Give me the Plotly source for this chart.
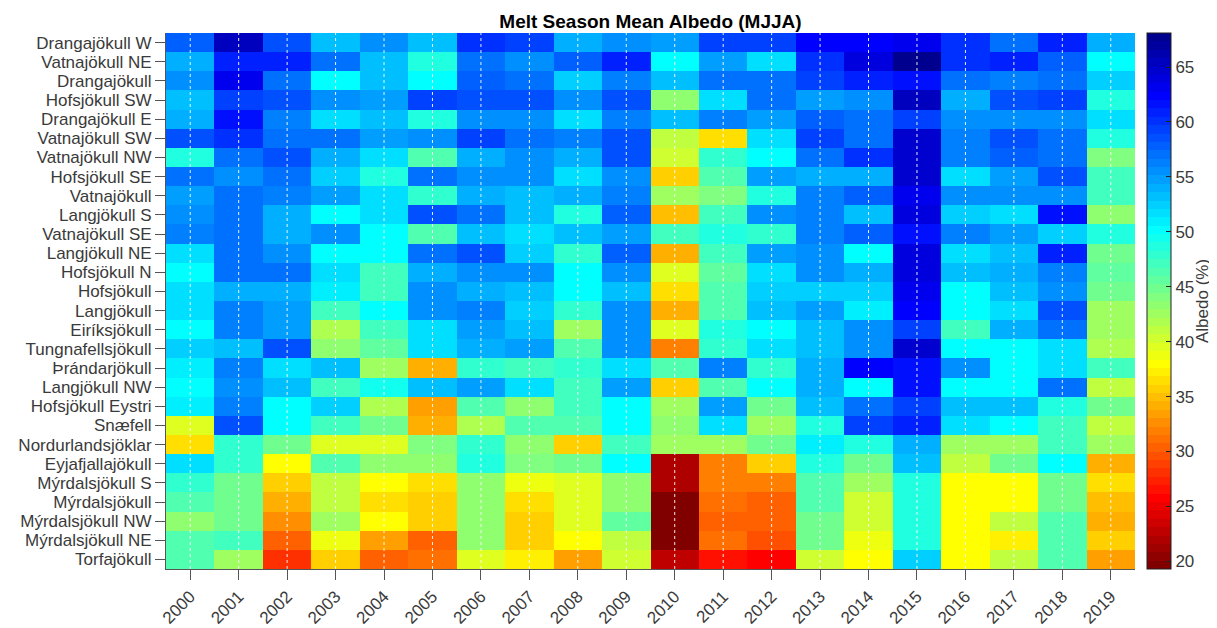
import math
import plotly.graph_objects as go

years = list(range(2000, 2020))
glaciers = [
    "Drangajökull W", "Vatnajökull NE", "Drangajökull", "Hofsjökull SW",
    "Drangajökull E", "Vatnajökull SW", "Vatnajökull NW", "Hofsjökull SE",
    "Vatnajökull", "Langjökull S", "Vatnajökull SE", "Langjökull NE",
    "Hofsjökull N", "Hofsjökull", "Langjökull", "Eiríksjökull",
    "Tungnafellsjökull", "Þrándarjökull", "Langjökull NW", "Hofsjökull Eystri",
    "Snæfell", "Nordurlandsjöklar", "Eyjafjallajökull", "Mýrdalsjökull S",
    "Mýrdalsjökull", "Mýrdalsjökull NW", "Mýrdalsjökull NE", "Torfajökull",
]

# Albedo (%) per year, ordered as in `glaciers`
a2000 = [58.0, 54.3, 55.8, 53.6, 54.3, 58.2, 49.0, 56.7, 54.8, 55.8, 56.3, 51.7, 49.8, 51.5,
         51.8, 50.5, 52.7, 51.2, 50.0, 51.2, 39.8, 36.4, 51.5, 47.6, 46.2, 43.6, 46.2, 46.2]
a2001 = [65.6, 61.0, 63.2, 59.0, 61.5, 60.0, 57.2, 55.3, 57.2, 57.2, 57.2, 57.2, 57.2, 54.3,
         56.3, 56.3, 53.4, 56.3, 55.8, 56.3, 58.7, 47.6, 48.0, 45.0, 45.0, 45.0, 47.0, 42.2]
a2002 = [58.7, 61.0, 57.2, 58.6, 56.3, 57.2, 58.2, 56.7, 56.3, 53.9, 54.3, 55.3, 56.7, 53.9,
         54.8, 54.8, 58.2, 52.0, 53.4, 49.8, 49.8, 45.0, 37.6, 35.9, 33.8, 32.8, 30.7, 27.8]
a2003 = [53.0, 57.2, 50.5, 55.3, 52.0, 57.2, 53.9, 52.4, 54.8, 50.5, 55.3, 49.8, 51.5, 51.0,
         47.5, 41.7, 43.6, 53.4, 47.1, 52.4, 47.1, 39.3, 46.2, 41.2, 40.7, 42.7, 38.8, 35.7]
a2004 = [55.3, 53.0, 53.4, 54.8, 53.4, 54.8, 51.5, 49.0, 51.5, 51.5, 50.5, 49.8, 47.5, 47.5,
         49.8, 47.5, 45.7, 42.7, 49.3, 41.7, 44.6, 39.3, 43.2, 37.6, 36.6, 37.6, 33.1, 30.7]
a2005 = [53.0, 48.4, 50.5, 59.6, 49.0, 55.3, 46.2, 57.2, 48.0, 58.2, 46.2, 57.2, 54.3, 55.8,
         55.8, 52.0, 51.8, 34.5, 53.0, 33.1, 33.8, 44.0, 43.0, 36.8, 35.4, 35.9, 30.0, 31.1]
a2006 = [59.8, 57.0, 57.7, 58.6, 55.8, 59.0, 54.3, 55.8, 54.3, 57.2, 53.4, 58.2, 55.8, 54.3,
         56.3, 54.8, 54.3, 47.6, 54.8, 46.2, 41.7, 47.6, 48.4, 43.6, 43.6, 43.6, 43.6, 39.3]
a2007 = [59.6, 55.8, 57.2, 58.2, 55.8, 57.2, 55.3, 55.8, 53.4, 53.4, 52.0, 52.4, 55.8, 53.5,
         52.4, 53.0, 54.8, 47.1, 51.5, 43.2, 46.6, 43.2, 44.1, 38.8, 36.6, 35.9, 35.9, 37.4]
a2008 = [53.9, 57.7, 52.4, 55.3, 52.0, 56.3, 53.9, 51.5, 54.3, 48.4, 53.0, 48.0, 49.8, 49.8,
         48.0, 42.7, 46.6, 48.0, 47.5, 47.5, 46.2, 35.9, 44.6, 39.8, 39.3, 39.8, 37.6, 33.4]
a2009 = [55.8, 61.0, 56.3, 58.7, 56.3, 58.7, 58.2, 55.3, 56.3, 57.7, 54.8, 57.7, 55.3, 53.4,
         55.8, 55.3, 55.3, 52.0, 54.8, 50.5, 50.5, 47.1, 49.8, 43.2, 43.2, 45.7, 41.2, 40.2]
a2010 = [55.0, 49.8, 53.4, 43.2, 53.0, 41.2, 40.2, 35.4, 42.2, 35.2, 47.1, 33.8, 39.8, 36.8,
         34.5, 39.8, 32.1, 46.2, 35.9, 42.2, 43.2, 42.2, 22.3, 21.6, 19.9, 19.3, 19.9, 23.0]
a2011 = [59.6, 54.8, 57.2, 52.0, 56.3, 36.8, 48.0, 46.6, 44.1, 47.1, 48.4, 47.1, 45.7, 46.2,
         46.6, 49.0, 48.0, 56.3, 46.2, 54.8, 51.5, 42.7, 31.6, 31.6, 30.9, 30.0, 31.1, 26.8]
a2012 = [59.6, 51.5, 56.7, 56.7, 54.8, 52.0, 49.8, 54.8, 49.0, 55.3, 48.0, 54.8, 51.5, 52.4,
         53.0, 50.5, 51.5, 48.0, 50.5, 44.6, 42.7, 44.6, 35.7, 31.6, 30.7, 30.0, 29.7, 26.1]
a2013 = [62.0, 60.0, 59.6, 54.8, 57.7, 59.1, 57.2, 54.3, 56.3, 56.3, 56.3, 55.3, 55.3, 52.4,
         54.8, 53.0, 53.4, 54.3, 54.3, 53.4, 49.0, 51.0, 49.0, 46.6, 46.2, 44.6, 44.6, 40.2]
a2014 = [62.0, 64.2, 60.5, 55.8, 56.7, 56.7, 60.0, 54.3, 57.7, 53.4, 57.7, 50.5, 53.9, 52.4,
         51.0, 55.8, 55.8, 62.7, 49.8, 57.2, 59.6, 49.0, 44.6, 42.2, 40.2, 40.2, 38.8, 37.6]
a2015 = [63.2, 67.6, 61.5, 65.6, 59.6, 64.6, 64.6, 64.6, 63.2, 64.2, 61.5, 63.7, 63.7, 63.2,
         62.0, 59.1, 64.6, 61.5, 61.5, 59.6, 61.0, 54.3, 53.4, 48.4, 49.0, 49.0, 48.4, 52.7]
a2016 = [60.0, 60.0, 57.2, 54.3, 55.8, 56.3, 56.3, 51.5, 55.3, 52.4, 56.3, 51.5, 53.0, 50.5,
         50.5, 47.5, 49.8, 55.3, 49.8, 53.0, 52.0, 42.2, 40.7, 37.6, 37.6, 37.6, 37.6, 37.6]
a2017 = [56.7, 60.5, 56.3, 58.7, 55.8, 58.7, 57.7, 54.8, 55.8, 51.5, 54.8, 53.4, 54.3, 53.4,
         51.5, 53.9, 50.5, 50.5, 50.5, 53.0, 49.8, 42.2, 44.6, 38.3, 38.3, 40.7, 37.1, 40.7]
a2018 = [60.5, 57.7, 57.2, 59.6, 55.8, 56.7, 56.7, 58.2, 55.3, 61.5, 52.4, 61.0, 56.3, 55.8,
         58.2, 57.2, 52.0, 51.5, 57.2, 49.0, 47.1, 47.1, 49.8, 45.0, 45.0, 46.2, 46.2, 46.6]
a2019 = [53.9, 50.5, 52.4, 49.0, 51.5, 48.4, 44.1, 47.1, 47.1, 43.6, 48.4, 44.6, 45.7, 44.6,
         42.2, 42.7, 41.7, 47.1, 41.2, 45.0, 41.2, 42.2, 34.5, 36.6, 35.2, 33.8, 35.4, 33.1]

columns = [a2000, a2001, a2002, a2003, a2004, a2005, a2006, a2007, a2008, a2009,
           a2010, a2011, a2012, a2013, a2014, a2015, a2016, a2017, a2018, a2019]
z = [[col[i] for col in columns] for i in range(len(glaciers))]

cmin, cmax = 19.3, 68.1
cbar_ticks = [20, 25, 30, 35, 40, 45, 50, 55, 60, 65]


def matlab_jet(m=64):
    n = math.ceil(m / 4)
    u = [i / n for i in range(1, n + 1)] + [1.0] * (n - 1) + [i / n for i in range(n, 0, -1)]
    g0 = math.ceil(n / 2) - (1 if m % 4 == 1 else 0)
    g = [g0 + k for k in range(1, len(u) + 1)]
    r = [gi + n for gi in g]
    b = [gi - n for gi in g]
    J = [[0.0, 0.0, 0.0] for _ in range(m)]
    for k in range(len(u)):
        if 1 <= r[k] <= m:
            J[r[k] - 1][0] = u[k]
        if 1 <= g[k] <= m:
            J[g[k] - 1][1] = u[k]
        if 1 <= b[k] <= m:
            J[b[k] - 1][2] = u[k]
    return J


cmap = matlab_jet(64)[::-1]
scale = []
N = len(cmap)
for i, c in enumerate(cmap):
    col = "rgb(%d,%d,%d)" % tuple(round(v * 255) for v in c)
    scale.append([i / N, col])
    scale.append([(i + 1) / N, col])

FONT = "Liberation Sans, Arial, Helvetica, sans-serif"
TXT = "#3a3a3a"
AX = "#555555"

# The page body has an 8px default margin, so the figure is sized/offset to compensate
W, H = 1209, 620
ML, MR, MT, MB = 158, 82, 25, 59
plot_w = W - ML - MR

fig = go.Figure()
fig.add_trace(go.Heatmap(
    z=z, x=years, y=glaciers,
    zmin=cmin, zmax=cmax, colorscale=scale,
    colorbar=dict(
        x=1.012, xanchor="left", xpad=0, y=0.5, yanchor="middle", ypad=0,
        len=1, lenmode="fraction", thickness=24, thicknessmode="pixels",
        outlinewidth=1, outlinecolor="#222222",
        tickvals=cbar_ticks, ticks="inside", ticklen=5, tickcolor="#222222",
        tickfont=dict(family=FONT, size=17, color=TXT),
    ),
    hoverongaps=False,
))

for yr in years:
    fig.add_shape(type="line", x0=yr, x1=yr, y0=0, y1=1, xref="x", yref="paper",
                  line=dict(color="rgba(255,255,255,0.9)", width=1, dash="dot"), layer="above")

# colorbar label
fig.add_annotation(text="Albedo (%)", textangle=-90, showarrow=False,
                   x=1 + (1194 - (W - MR)) / plot_w, xref="paper", xanchor="center",
                   y=0.5, yref="paper", yanchor="middle",
                   font=dict(family=FONT, size=17, color=TXT))

fig.update_layout(
    width=W, height=H,
    margin=dict(l=ML, r=MR, t=MT, b=MB, autoexpand=False),
    paper_bgcolor="white", plot_bgcolor="white",
    font=dict(family=FONT, color=TXT),
    title=dict(text="<b>Melt Season Mean Albedo (MJJA)</b>", x=0.5, xref="paper",
               y=1 - 13 / H, yref="container", xanchor="center", yanchor="middle",
               font=dict(family=FONT, size=19, color="#000000")),
    xaxis=dict(
        range=[years[0] - 0.5, years[-1] + 0.5], tickvals=years, ticktext=[str(y) for y in years],
        tickangle=-45, ticks="outside", ticklen=10, tickcolor=AX, tickwidth=1,
        showline=True, linecolor=AX, linewidth=1, showgrid=False, zeroline=False,
        tickfont=dict(family=FONT, size=17, color=TXT),
    ),
    yaxis=dict(
        type="category", range=[len(glaciers) - 0.5, -0.5],
        tickmode="array", tickvals=glaciers, ticktext=glaciers,
        ticks="outside", ticklen=10, tickcolor=AX, tickwidth=1,
        showline=True, linecolor=AX, linewidth=1, showgrid=False, zeroline=False,
        tickfont=dict(family=FONT, size=17, color=TXT),
    ),
)

fig.write_html("out.html")
